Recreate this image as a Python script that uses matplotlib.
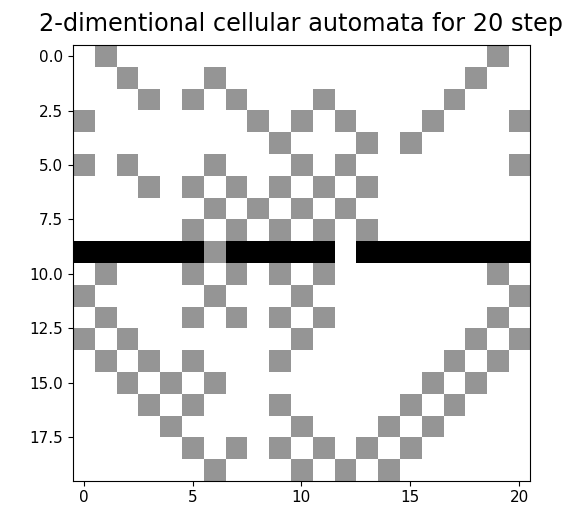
# 2-dimentional cellular automata, 20 steps, shown with imshow
import numpy as np
import matplotlib
matplotlib.use('Agg')
from matplotlib import pyplot as plt

n_steps = 20
n_cells = 21

# columns of the grey cells, one list per step
grey_cols = [
    [1, 19],
    [2, 6, 18],
    [3, 5, 7, 11, 17],
    [0, 8, 10, 12, 16, 20],
    [9, 13, 15],
    [0, 2, 6, 10, 12, 20],
    [3, 5, 7, 9, 11, 13],
    [6, 8, 10, 12],
    [5, 7, 9, 11, 13],
    [6],
    [1, 5, 7, 9, 11, 19],
    [0, 6, 10, 20],
    [1, 5, 7, 9, 11, 19],
    [0, 2, 10, 18, 20],
    [1, 3, 5, 9, 17, 19],
    [2, 4, 6, 16, 18],
    [3, 5, 9, 15, 17],
    [4, 10, 14, 16],
    [5, 7, 9, 11, 13, 15],
    [6, 10, 12, 14],
]

# the black row
black_row = 9
black_cols = [0, 1, 2, 3, 4, 5, 7, 8, 9, 10, 11, 13, 14, 15, 16, 17, 18, 19, 20]

x_ticks = [0, 5, 10, 15, 20]

grid = np.zeros((n_steps, n_cells))
for r, cols in enumerate(grey_cols):
    grid[r, cols] = 1
grid[black_row, black_cols] = 2

fig = plt.figure(figsize=(5.65, 5.14), dpi=100)
ax = fig.add_axes([0.129, 0.062, 0.809, 0.853])
ax.imshow(grid, cmap='Greys', vmin=0, vmax=2)
ax.set_xticks(x_ticks)
ax.set_title('2-dimentional cellular automata for 20 step', fontsize=17.3, pad=10)
ax.tick_params(labelsize=11)

plt.savefig('out.png')
